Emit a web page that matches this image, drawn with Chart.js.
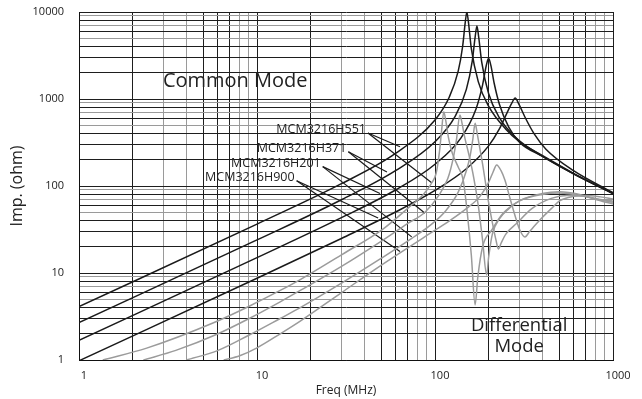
<!DOCTYPE html>
<html lang="en">
<head>
<meta charset="UTF-8">
<title>MCM3216H Impedance</title>
<script src="https://cdn.jsdelivr.net/npm/chart.js"></script>
<style>
    body { margin: 0; background: #fff; }
    .chart-box { width: 642px; height: 399px; position: relative; }
</style>
</head>
<body>
<div class="chart-box"><canvas id="impChart"></canvas></div>
<script>
// grid / tick values
const freqGrid = [1,2,3,4,5,6,7,8,9,10,20,30,40,50,60,70,80,90,100,200,300,400,500,600,700,800,900,1000];
const impGrid = [1,2,3,4,5,6,7,8,9,10,20,30,40,50,60,70,80,90,100,200,300,400,500,600,700,800,900,
                 1000,2000,3000,4000,5000,6000,7000,8000,9000,10000];
const freqLabels = [1, 10, 100, 1000];
const impLabels = [1, 10, 100, 1000, 10000];

// common mode (black)
const cm551Freq = [1, 10, 30, 60, 100, 120, 135, 143, 148, 151, 154, 160, 175, 200, 250, 300, 400, 600, 1000];
const cm551Imp  = [4.1, 36.5, 107, 237, 575, 1040, 2090, 4040, 7700, 10000, 7750, 3790, 1585, 827, 450, 320, 225, 140, 82];
const cm371Freq = [1, 10, 30, 60, 100, 130, 150, 162, 168, 172, 176, 183, 200, 230, 280, 400, 600, 1000];
const cm371Imp  = [2.69, 24, 70, 150, 323, 636, 1290, 2750, 5110, 6900, 5150, 2650, 1155, 610, 370, 220, 138, 82];
const cm201Freq = [1, 10, 30, 60, 100, 140, 170, 185, 194, 200, 206, 215, 230, 260, 300, 400, 600, 1000];
const cm201Imp  = [1.68, 15, 43.5, 90, 178, 358, 769, 1445, 2410, 2950, 2430, 1516, 871, 473, 315, 220, 138, 82];
const cm900Freq = [1, 10, 30, 60, 100, 150, 200, 230, 255, 270, 282, 295, 320, 360, 420, 600, 1000];
const cm900Imp  = [0.98, 8.7, 25.1, 50.2, 89, 158, 289, 453, 708, 894, 1030, 885, 621, 400, 265, 150, 84];

// differential mode (gray)
const dm551Freq = [1.36, 2.4, 5.7, 9.1, 13.5, 17.5, 30, 51, 70, 86, 96, 101.5, 106, 109, 112, 115, 119, 125, 135, 144, 152, 160, 168, 174, 185, 208, 240, 300, 400, 500, 650, 800, 1000];
const dm551Imp  = [1, 1.37, 2.68, 4.18, 6.3, 8.4, 16.3, 32, 55, 80, 109, 140, 250, 440, 714, 560, 360, 240, 165, 117, 48, 16, 4.3, 9, 20, 31, 48, 68, 82, 86, 80, 70, 62];
const dm371Freq = [2.3, 3.5, 6, 9.1, 13.5, 17.5, 30, 50, 70, 87.9, 105, 118, 126, 132, 138, 142, 147, 155, 165, 175, 185, 195, 200, 210, 230, 260, 300, 400, 500, 650, 800, 1000];
const dm371Imp  = [1, 1.29, 1.99, 3.02, 4.66, 6.3, 12, 23.3, 37, 50, 78, 122, 200, 340, 655, 520, 360, 230, 125, 60, 24, 9.5, 15, 28, 42, 55, 68, 80, 83, 78, 71, 65];
const dm201Freq = [4.0, 6, 9.1, 13.5, 17.5, 30, 50, 74, 95, 115, 135, 150, 158, 163, 168, 172, 177, 185, 199, 210, 220, 227, 235, 250, 287, 350, 450, 550, 700, 850, 1000];
const dm201Imp  = [1, 1.28, 1.95, 3.0, 4.0, 7.7, 14.8, 25, 36, 52, 85, 150, 230, 340, 525, 420, 300, 180, 69, 38, 24, 18.9, 22, 28, 37, 55, 72, 78, 76, 70, 67];
const dm900Freq = [6.5, 8, 10, 13.5, 17.5, 30, 50, 63.6, 90, 121, 150, 179, 200, 212, 222, 235, 247, 265, 285, 300, 320, 340, 388, 450, 504, 600, 710, 850, 1000];
const dm900Imp  = [1, 1.12, 1.38, 2.0, 2.8, 6.0, 12.3, 17, 27, 40, 55, 76, 110, 145, 174, 150, 117, 70, 42, 31, 26, 30, 40.6, 55, 68, 76, 78, 75, 71];

// part labels with leader lines: [freq, imp]
const partNames  = ['MCM3216H551', 'MCM3216H371', 'MCM3216H201', 'MCM3216H900'];
const leaderFrom = [[42.0, 406], [32.6, 248], [23.4, 167], [16.7, 115]];
const leaderToCm = [[63.6, 283], [53.7, 145], [49.1, 82], [47.9, 42.9]];
const leaderToDm = [[95.8, 109], [87.9, 48.5], [74, 26], [63.6, 17.7]];

const modeNotes = [
    { text: 'Common Mode', f: 2.96, z: 1610, align: 'left', size: 20 },
    { text: 'Differential', f: 297, z: 2.49, align: 'center', size: 18.5 },
    { text: 'Mode', f: 297, z: 1.43, align: 'center', size: 18.5 }
];

const BLACK = '#1a1a1a';
const GRAY = '#9b9b9b';

function pts(fs, zs) {
    return fs.map((f, i) => ({ x: f, y: zs[i] }));
}

function curve(fs, zs, color) {
    return {
        data: pts(fs, zs),
        borderColor: color,
        borderWidth: 1.5,
        pointRadius: 0,
        fill: false,
        cubicInterpolationMode: 'monotone'
    };
}

function leader(a, b) {
    return {
        data: [{ x: a[0], y: a[1] }, { x: b[0], y: b[1] }],
        borderColor: BLACK,
        borderWidth: 1.2,
        pointRadius: 0,
        tension: 0
    };
}

function gridColor(darkDigits) {
    return ctx => {
        const v = ctx.tick ? ctx.tick.value : 1;
        const d = Math.round(v / Math.pow(10, Math.floor(Math.log10(v) + 1e-9)));
        return darkDigits.includes(d) ? '#1e1e1e' : '#9a9a9a';
    };
}

const datasets = [
    curve(dm551Freq, dm551Imp, GRAY),
    curve(dm371Freq, dm371Imp, GRAY),
    curve(dm201Freq, dm201Imp, GRAY),
    curve(dm900Freq, dm900Imp, GRAY),
    curve(cm551Freq, cm551Imp, BLACK),
    curve(cm371Freq, cm371Imp, BLACK),
    curve(cm201Freq, cm201Imp, BLACK),
    curve(cm900Freq, cm900Imp, BLACK)
];
leaderFrom.forEach((p, i) => {
    datasets.push(leader(p, leaderToCm[i]));
    datasets.push(leader(p, leaderToDm[i]));
});

// draws the part names and the mode captions
const notesPlugin = {
    id: 'notes',
    afterDatasetsDraw(chart) {
        const { ctx, scales: { x, y } } = chart;
        ctx.save();
        ctx.fillStyle = '#222';
        ctx.font = "12.5px 'Open Sans', sans-serif";
        ctx.textAlign = 'right';
        ctx.textBaseline = 'alphabetic';
        partNames.forEach((name, i) => {
            const px = x.getPixelForValue(leaderFrom[i][0]);
            const py = y.getPixelForValue(leaderFrom[i][1]);
            ctx.fillText(name, px - 2, py);
        });
        ctx.textBaseline = 'middle';
        modeNotes.forEach(n => {
            ctx.font = n.size + "px 'Open Sans', sans-serif";
            ctx.textAlign = n.align;
            ctx.fillText(n.text, x.getPixelForValue(n.f), y.getPixelForValue(n.z));
        });
        ctx.restore();
    }
};

Chart.defaults.font.family = "'Open Sans', sans-serif";

new Chart(document.getElementById('impChart'), {
    type: 'line',
    data: { datasets: datasets },
    options: {
        responsive: true,
        maintainAspectRatio: false,
        animation: false,
        layout: { padding: { left: 0, right: 29, top: 12, bottom: 0 } },
        plugins: { legend: { display: false }, tooltip: { enabled: false } },
        scales: {
            x: {
                type: 'logarithmic',
                min: 1,
                max: 1000,
                afterBuildTicks: s => { s.ticks = freqGrid.map(v => ({ value: v })); },
                afterFit: s => { s.height = 39; },
                ticks: {
                    autoSkip: false,
                    maxRotation: 0,
                    padding: 2,
                    labelOffset: 5,
                    color: '#222',
                    font: { size: 11 },
                    callback: v => freqLabels.includes(v) ? String(v) : ''
                },
                grid: { color: gridColor([1, 2, 5, 6, 7]), lineWidth: 1, tickLength: 7, tickColor: 'transparent' },
                border: { color: '#111', width: 1 },
                title: { display: true, text: 'Freq (MHz)', color: '#222', font: { size: 12, lineHeight: 1.0 }, padding: { top: 0, bottom: 2 } }
            },
            y: {
                type: 'logarithmic',
                min: 1,
                max: 10000,
                afterBuildTicks: s => { s.ticks = impGrid.map(v => ({ value: v })); },
                afterFit: s => { s.width = 79; },
                ticks: {
                    autoSkip: false,
                    padding: 3,
                    color: '#222',
                    font: { size: 11 },
                    callback: v => impLabels.includes(v) ? String(v) : ''
                },
                grid: { color: gridColor([1, 2, 3, 4, 6, 8]), lineWidth: 1, tickLength: 12, tickColor: 'transparent' },
                border: { color: '#111', width: 1 },
                title: { display: true, text: 'Imp. (ohm)', color: '#222', font: { size: 16 }, padding: { top: 8, bottom: 0 } }
            }
        }
    },
    plugins: [notesPlugin]
});
</script>
</body>
</html>
